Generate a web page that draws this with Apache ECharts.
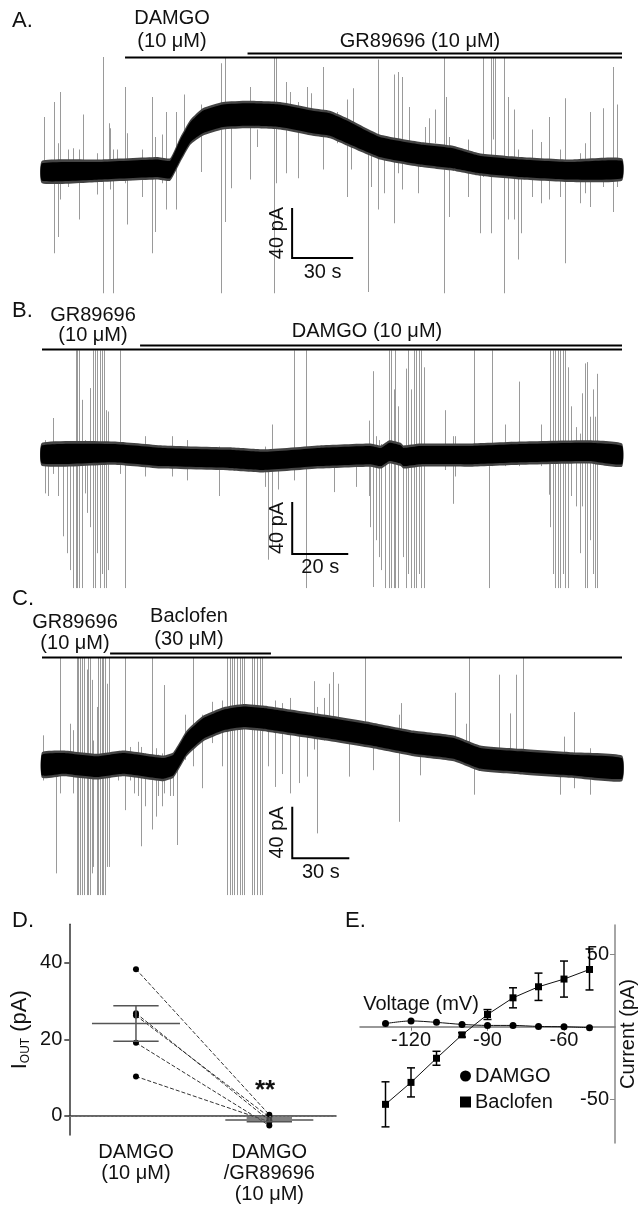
<!DOCTYPE html>
<html><head><meta charset="utf-8">
<script src="https://cdn.jsdelivr.net/npm/echarts@6/dist/echarts.min.js"></script>
<style>html,body{margin:0;padding:0;background:#fff}#c{width:639px;height:1207px}</style>
</head><body><div id="c"></div>
<script>
// ---------- Panel A: DAMGO then GR89696 (time s, current pA) ----------
const traceA_t  = [0,28.5,56.5,63,68,73,79,89,101,117,133,141.5,150,166,186,202,215,235,259,285];
const traceA_i  = [0,1,3,2,18,32,40,45,46,45,40,38,32,20,14,11,6,3,1,2];
const traceA_hw = [7,7,7,7,8,8,9,9,9,9,9,9,9,8,8,8,7,7,7,7];
const spikesA = [
[1,44,-9],[6,56,-65],[8,23,-52],[9,64,-22],[13,18,-12],[15,19,-6],[18,18,-38],[20,46,-6],[27,15,-18],[30,94,-97],[33,39,-6],[33.5,35,-14],[35,18,-97],[37,18,-6],[41,68,-9],[42,31,-42],[49,18,-20],[54,60,-65],[55.5,28,-48],[59,30,-9],[61,48,-30],[66,48,-30],[70,62,26],[78,54,0],[88,87,-97],[90,94,-40],[93,56,-13],[102,68,-6],[105.5,34,20],[114,94,-97],[115,94,-9],[120,72,-1],[122,64,38],[126,56,-5],[130,68,36],[132,63,36],[138,84,2],
[145,48,23],[150,58,-20],[152,26,2],[153,67,39],[160,26,-96],[161.5,18,-12],[165,90,-30],[168,26,-17],[173,78,-41],[175,80,-1],[177,76,-14],[180.5,52,23],[185,15,-17],[188,36,20],[190,43,20],[193,50,23],[197.5,92,-97],[198.5,60,2],[200,28,-36],[209.5,26,-20],[215,12,-49],[216.5,92,-4],[220.5,92,-49],[221.5,92,26],[222.5,91,12],[227,92,-97],[229,60,-38],[232,50,-38],[234,18,-70],[235.5,4,-49],[241,34,-20],[245,24,-25],[249,44,-22],[254.5,18,-20],[257,59,-73],[264.5,15,-25],[267,23,-17],[269.5,48,-28],[275.5,51,-12],[280.5,84,-32],[282.5,54,-12],[284.8,51,-6]];
const drugA = [[40.8,285],[101,285]];          // DAMGO, GR89696
const scaleA = [122.9,-68.8,30,40];

// ---------- Panel B: GR89696 then DAMGO ----------
const traceB_t  = [0,25.5,43,67,79,99,117,121,124,128,129,135,153,171,195,207];
const traceB_i  = [2,3,0,-1.5,-3,0,1.5,0,4,2,0,1.5,1.5,3,4,1.5];
const traceB_hw = [7,7,7,7,7,7,7,7,7,7,7,7,7,7,7,7];
const spikesB = [
[1,13,-28],[2.3,8,-30],[3.8,30,-13],[5.8,5,-30],[7.6,5,-61],[8.8,5,-74],[10,8,-87],[11.2,8,-101],[12,82,-101],[12.6,82,-101],[13.3,82,-101],[14.2,44,-101],[15.4,13,-28],[16.2,5,-43],[17.1,53,-54],[18.1,82,-101],[19,82,-101],[19.5,82,-74],[20.7,82,-101],[21.3,82,-90],[22.1,82,-101],[22.9,36,-101],[23.5,35,-87],[27.9,82,-13],[29.6,8,-101],[36.8,16,-15],[46.3,16,-15],[51.7,13,-18],[63,8,-30],[79.6,8,-23],[80.8,-5,-79],[82,25,-69],[84.4,-5,-25],[89.8,82,-18],[94.3,82,-101],
[104.3,-2,-27],[112.2,10,-23],[116.6,28,-30],[117.2,5,-54],[118.3,66,-100],[119.3,16,-64],[120.1,13,-77],[121.1,10,-87],[122.5,8,-101],[123.9,82,-101],[124.7,82,-101],[125.5,52,-101],[126.1,82,-101],[126.9,39,-101],[128.8,0,-77],[130,68,-101],[130.8,82,-90],[131.7,52,-101],[132.6,82,-101],[133.6,82,-101],[134.4,82,-90],[135.3,82,-101],[136.2,69,-101],[143.9,36,-10],[146.7,16,-36],[147.5,16,-15],[154.1,82,-7],[159.4,-7,-101],[160.6,82,-7],[165.4,25,-7],[170.4,58,-7],[178.1,25,-7],[180.8,5,-29],[181.4,82,-54],[182.3,82,-90],[183.2,82,-101],[184.1,82,-101],[185,82,-101],[185.8,82,-90],[186.8,82,-101],[187.7,69,-101],[188.8,39,-30],[190.6,23,-38],[191.9,18,-74],[192.8,49,-38],[193.7,72,-101],[194.5,73,-101],[195.5,31,-64],[196.6,52,-90],[197.2,31,-101],[197.9,64,-101],[207,58,-7]];
const drugB = [[0,207],[35,207]];              // GR89696, DAMGO
const scaleB = [89.3,-74.6,20,40];

// ---------- Panel C: GR89696 then Baclofen ----------
const traceC_t  = [0,11.2,28.8,42.8,63.8,69.1,76.1,84.9,95.4,105.9,116.5,134,151.6,172.6,195.4,216.5,230.5,251.6,277.9,305];
const traceC_i  = [0,1.3,-1.3,1.3,-2.6,0,16.8,28.4,34.9,37.4,36.2,32.3,28.4,23.3,16.8,12.9,5.2,2.6,0,-2.6];
const traceC_hw = [8,8,8,8,8,8,8,8,8,8,8,8,8,8,8,8,8,8,8,8];
const spikesC = [
[0.4,23,-12],[7.4,4,-84],[9.5,83,-22],[14.7,32,-1],[16.1,27,-22],[18.2,83,-101],[19.1,83,-101],[20,83,-101],[20.9,83,-101],[22.1,83,-101],[23.5,74,-101],[24.4,83,-101],[25.3,83,-101],[26.1,66,-84],[27,19,-79],[28.8,45,-101],[29.6,83,-101],[30.5,83,-101],[31.4,83,-101],[32.3,83,-101],[33.2,83,-101],[34.4,63,-79],[35.4,83,-79],[40.2,9,-12],[43.7,83,-35],[46.3,14,-12],[48.4,8,-22],[50.7,18,-24],[51.9,14,-63],[54.2,9,-32],[57.7,83,-50],[60,13,-40],[61.2,8,-24],[63,9,-32],[64.4,62,-22],[67.4,5,-24],[69.1,4,-24],[70.9,5,-62],[75.3,39,4],[79.6,83,-1],[84.4,39,-18],[89.3,49,17],[94.6,50,-1],[97.2,83,-101],[98.6,83,-101],[99.8,83,-101],[101,83,-101],[102.5,83,-101],[103.9,83,-101],[105.1,83,-101],[106.3,83,-101],[110.4,83,-101],[111.6,83,-101],[113,83,-101],[114.4,83,-101],[115.6,83,-101],[119.1,45,-1],[122.6,50,-17],[126.1,48,-7],[130.5,52,-22],[135.4,30,-14],[139.3,32,-9],[143.2,65,12],[144.6,45,-53],[148.1,52,19],
[150.7,63,19],[152.8,72,22],[155.4,63,25],[161.7,19,-9],[169.6,83,25],[174,19,-4],[187.9,39,-44],[188.9,48,19],[198.9,25,-8],[217,56,14],[223,32,9],[224.7,83,9],[227.4,14,-23],[240.5,70,11],[246,40,9],[249.5,70,9],[253,83,9],[272.6,3,-23],[274.7,22,-6],[279.6,41,-18],[288.4,13,-23]];
const drugC = [[0,305],[35.8,120.4]];          // GR89696, Baclofen
const scaleC = [131.6,-72.3,30,40];

// ---------- Panel D: I_OUT per cell ----------
const groupsD = ['DAMGO\n(10 \u03bcM)', 'DAMGO\n/GR89696\n(10 \u03bcM)'];
const damgoD  = [38.3, 26.8, 26.2, 19.1, 10.3];
const grD     = [0.3, -1.2, -0.3, -2.5, -1.5];

// ---------- Panel E: I-V ----------
const voltE     = [-130,-120,-110,-100,-90,-80,-70,-60,-50];
const damgoE    = [2.2, 4, 3, 1.6, 0.9, 0.9, 0.2, 0, -0.7];
const baclofenE = [-53.4,-38.3,-21.7,-5.6,8.4,19.9,27.5,32.8,39.4];
const baclofenSem = [15.5,10,4.8,1.5,3.4,6.9,9.4,12.4,14.1];
const voltTicks = [-120,-90,-60];
const currentTicks = [-50,50];

const FONT = "'Liberation Sans', Arial, Helvetica, sans-serif";
const font = (s, w) => (w||'normal') + ' ' + s + 'px ' + FONT;

function mean(a){ return a.reduce((s,v)=>s+v,0)/a.length; }
function sem(a){ const m=mean(a); const v=a.reduce((s,x)=>s+(x-m)*(x-m),0)/(a.length-1); return Math.sqrt(v/a.length); }

function spikeSeries(idx, data){
  return {type:'custom', xAxisIndex:idx, yAxisIndex:idx, data:data, clip:true, silent:true, z:1,
    encode:{x:0, y:[1,2]},
    renderItem:(p,api)=>{
      const a=api.coord([api.value(0),api.value(1)]), b=api.coord([api.value(0),api.value(2)]);
      const x=Math.round(a[0])+0.5;
      return {type:'line', shape:{x1:x,y1:a[1],x2:x,y2:b[1]}, style:{stroke:'#9a9a9a', lineWidth:1}};
    }};
}
function bandSeries(idx, ts, is, hw){
  return {type:'custom', xAxisIndex:idx, yAxisIndex:idx, silent:true, z:2,
    data: ts.map((t,k)=>[t,is[k]]), encode:{x:0,y:1},
    renderItem:(p,api)=>{
      if(p.dataIndex!==0) return null;
      const up=[], lo=[];
      for(let k=0;k<ts.length;k++){
        up.push(api.coord([ts[k], is[k]+hw[k]]));
        lo.push(api.coord([ts[k], is[k]-hw[k]]));
      }
      lo.reverse();
      const F=2.5;
      const fr=up.map(q=>[q[0],q[1]-F]).concat(lo.map(q=>[q[0],q[1]+F]));
      const core=up.concat(lo);
      return {type:'group', children:[
        {type:'polygon', shape:{points:fr, smooth:0.15}, style:{fill:'#444'}},
        {type:'polygon', shape:{points:core, smooth:0.15}, style:{fill:'#000'}}
      ]};
    }};
}
function drugSeries(idx, bars, ymax){
  return {type:'custom', xAxisIndex:idx, yAxisIndex:idx, silent:true, z:3, data:bars,
    encode:{x:[0,1]},
    renderItem:(p,api)=>{
      const a=api.coord([api.value(0), ymax]), b=api.coord([api.value(1), ymax]);
      const y=Math.round(a[1]-p.dataIndex*4)+0.5;
      return {type:'line', shape:{x1:a[0],y1:y,x2:b[0],y2:y}, style:{stroke:'#000', lineWidth:p.dataIndex?2:1.8}};
    }};
}
function scaleSeries(idx, bar){
  return {type:'custom', xAxisIndex:idx, yAxisIndex:idx, silent:true, z:3, data:[bar],
    encode:{x:0,y:1},
    renderItem:(p,api)=>{
      const t0=api.value(0), i0=api.value(1), dt=api.value(2), di=api.value(3);
      const o=api.coord([t0,i0]), v=api.coord([t0,i0+di]), h=api.coord([t0+dt,i0]);
      return {type:'group', children:[
        {type:'polyline', shape:{points:[v,o,h]}, style:{stroke:'#000', lineWidth:2, fill:null}},
        {type:'text', x:o[0]-15, y:(o[1]+v[1])/2, rotation:Math.PI/2,
          style:{text:di+' pA', font:font(20), fill:'#111', align:'center', verticalAlign:'middle'}},
        {type:'text', x:(o[0]+h[0])/2, y:o[1]+14,
          style:{text:dt+' s', font:font(20), fill:'#111', align:'center', verticalAlign:'middle'}}
      ]};
    }};
}

const hiddenX = (i,max)=>({type:'value', gridIndex:i, min:0, max:max, show:false});
const hiddenY = (i,min,max)=>({type:'value', gridIndex:i, min:min, max:max, show:false});

const meansD = [[0, mean(damgoD), sem(damgoD)], [1, mean(grD), sem(grD)]];

const pairSeries = damgoD.map((v,k)=>({
  type:'line', name:'cell'+(k+1), xAxisIndex:3, yAxisIndex:3, data:[v, grD[k]],
  symbol:'circle', symbolSize:6, z:4,
  lineStyle:{color:'#333', width:1, type:[4,2]}, itemStyle:{color:'#000'},
  markLine: k===0 ? {silent:true, symbol:'none', label:{show:false},
    lineStyle:{type:[2,2], color:'#777', width:1}, data:[{yAxis:0}]} : undefined
}));

const txt = (x,y,t,s,al,w)=>({type:'text', x:x, y:y, silent:true,
  style:{text:t, font:font(s||20,w), fill:'#111', align:al||'center', verticalAlign:'middle'}});

// E panel geometry
const gridE = {left:360, top:925, width:260, height:218};
const eYmin = -80, eYmax = 70;
const eZeroOffset = -gridE.height * (0 - eYmin) / (eYmax - eYmin); // move x axis up to I = 0

const option = {
  animation:false,
  backgroundColor:'#fff',
  grid:[
    {left:42, top:57, width:580, height:238.75},
    {left:42, top:349.1, width:580, height:239.2},
    {left:42, top:657.3, width:580, height:238},
    {left:69.3, top:924.3, width:266.7, height:210.8},
    gridE
  ],
  xAxis:[
    hiddenX(0,285), hiddenX(1,207), hiddenX(2,305),
    {type:'category', gridIndex:3, data:groupsD, boundaryGap:true,
     axisLine:{lineStyle:{color:'#333', width:1.5}},
     axisTick:{alignWithLabel:true, length:5, lineStyle:{color:'#333', width:1.5}},
     axisLabel:{fontFamily:FONT, fontSize:20, color:'#111', lineHeight:21, margin:7}},
    {type:'value', gridIndex:4, min:-140, max:-40, position:'bottom', offset:eZeroOffset,
     axisLine:{onZero:false, lineStyle:{color:'#777', width:1.5}},
     axisTick:{customValues:voltTicks, length:4, lineStyle:{color:'#777'}},
     axisLabel:{customValues:voltTicks, fontFamily:FONT, fontSize:20, color:'#111', margin:4},
     splitLine:{show:false}}
  ],
  yAxis:[
    hiddenY(0,-99,92), hiddenY(1,-101,83), hiddenY(2,-101,83.5),
    {type:'value', gridIndex:3, min:-5, max:50,
     axisLine:{show:true, lineStyle:{color:'#333', width:1.5}},
     axisTick:{show:true, customValues:[0,20,40], length:5, lineStyle:{color:'#333', width:1.5}},
     axisLabel:{customValues:[0,20,40], fontFamily:FONT, fontSize:20, color:'#111', margin:7},
     splitLine:{show:false},
     name:'{m|I}{s|OUT}{m| (pA)}', nameLocation:'middle', nameRotate:90, nameGap:38,
     nameTextStyle:{color:'#111', fontFamily:FONT,
       rich:{m:{fontSize:22, fontFamily:FONT, color:'#111'}, s:{fontSize:12, fontFamily:FONT, color:'#111', verticalAlign:'bottom', padding:[10,0,0,0]}}}},
    {type:'value', gridIndex:4, min:eYmin, max:eYmax, position:'right',
     axisLine:{show:true, onZero:false, lineStyle:{color:'#888', width:1.5}},
     axisTick:{show:true, inside:true, customValues:currentTicks, length:5, lineStyle:{color:'#888'}},
     axisLabel:{inside:true, customValues:currentTicks, fontFamily:FONT, fontSize:20, color:'#111', margin:6},
     splitLine:{show:false},
     name:'Current (pA)', nameLocation:'middle', nameRotate:90, nameGap:3,
     nameTextStyle:{fontFamily:FONT, fontSize:20, color:'#111', verticalAlign:'top'}}
  ],
  legend:{data:[{name:'DAMGO', icon:'circle'},{name:'Baclofen', icon:'rect'}],
    orient:'vertical', left:455, top:1061, itemWidth:11, itemHeight:11, itemGap:6,
    textStyle:{fontFamily:FONT, fontSize:20, color:'#111', padding:[0,0,0,-1]}},
  graphic:[
    txt(12,21,'A.',22,'left'),
    txt(172,18,'DAMGO'), txt(172,41,'(10 \u03bcM)'), txt(420,41,'GR89696 (10 \u03bcM)'),
    txt(12,311,'B.',22,'left'),
    txt(93,315,'GR89696'), txt(93,335,'(10 \u03bcM)'), txt(367,331,'DAMGO (10 \u03bcM)'),
    txt(12,599,'C.',22,'left'),
    txt(75,622,'GR89696'), txt(75,643,'(10 \u03bcM)'), txt(189,616,'Baclofen'), txt(189,639,'(30 \u03bcM)'),
    txt(12,921,'D.',22,'left'),
    txt(265,1091,'**',26,'center','bold'),
    txt(345,921,'E.',22,'left'),
    txt(421,1004,'Voltage (mV)')
  ],
  series:[
    spikeSeries(0, spikesA), bandSeries(0, traceA_t, traceA_i, traceA_hw), drugSeries(0, drugA, 92), scaleSeries(0, scaleA),
    spikeSeries(1, spikesB), bandSeries(1, traceB_t, traceB_i, traceB_hw), drugSeries(1, drugB, 83), scaleSeries(1, scaleB),
    spikeSeries(2, spikesC), bandSeries(2, traceC_t, traceC_i, traceC_hw), drugSeries(2, drugC, 83.5), scaleSeries(2, scaleC),
    ...pairSeries,
    {type:'custom', xAxisIndex:3, yAxisIndex:3, silent:true, z:5, data:meansD, encode:{x:0,y:1},
     renderItem:(p,api)=>{
       const x=api.value(0), m=api.value(1), s=api.value(2);
       const c=api.coord([x,m]), u=api.coord([x,m+s]), l=api.coord([x,m-s]);
       const bw=api.size([1,0])[0], hm=bw*0.33, hc=bw*0.17;
       const st={stroke:'#555', lineWidth:1.5};
       return {type:'group', children:[
         {type:'line', shape:{x1:c[0]-hm,y1:c[1],x2:c[0]+hm,y2:c[1]}, style:st},
         {type:'line', shape:{x1:c[0]-hc,y1:u[1],x2:c[0]+hc,y2:u[1]}, style:st},
         {type:'line', shape:{x1:c[0]-hc,y1:l[1],x2:c[0]+hc,y2:l[1]}, style:st},
         {type:'line', shape:{x1:c[0],y1:u[1],x2:c[0],y2:l[1]}, style:st}
       ]};
     }},
    {type:'line', name:'DAMGO', xAxisIndex:4, yAxisIndex:4, data:voltE.map((v,k)=>[v,damgoE[k]]),
     symbol:'circle', symbolSize:7, smooth:0.3, lineStyle:{color:'#111', width:1}, itemStyle:{color:'#000'}, z:4},
    {type:'line', name:'Baclofen', xAxisIndex:4, yAxisIndex:4, data:voltE.map((v,k)=>[v,baclofenE[k]]),
     symbol:'rect', symbolSize:7, lineStyle:{color:'#111', width:1}, itemStyle:{color:'#000'}, z:4},
    {type:'custom', xAxisIndex:4, yAxisIndex:4, silent:true, z:3,
     data:voltE.map((v,k)=>[v, baclofenE[k], baclofenSem[k]]), encode:{x:0,y:1},
     renderItem:(p,api)=>{
       const x=api.value(0), m=api.value(1), s=api.value(2);
       const u=api.coord([x,m+s]), l=api.coord([x,m-s]);
       const st={stroke:'#000', lineWidth:1.5};
       return {type:'group', children:[
         {type:'line', shape:{x1:u[0],y1:u[1],x2:l[0],y2:l[1]}, style:st},
         {type:'line', shape:{x1:u[0]-4,y1:u[1],x2:u[0]+4,y2:u[1]}, style:st},
         {type:'line', shape:{x1:l[0]-4,y1:l[1],x2:l[0]+4,y2:l[1]}, style:st}
       ]};
     }}
  ]
};
const chart = echarts.init(document.getElementById('c'), null, {renderer:'canvas'});
chart.setOption(option);
</script></body></html>
